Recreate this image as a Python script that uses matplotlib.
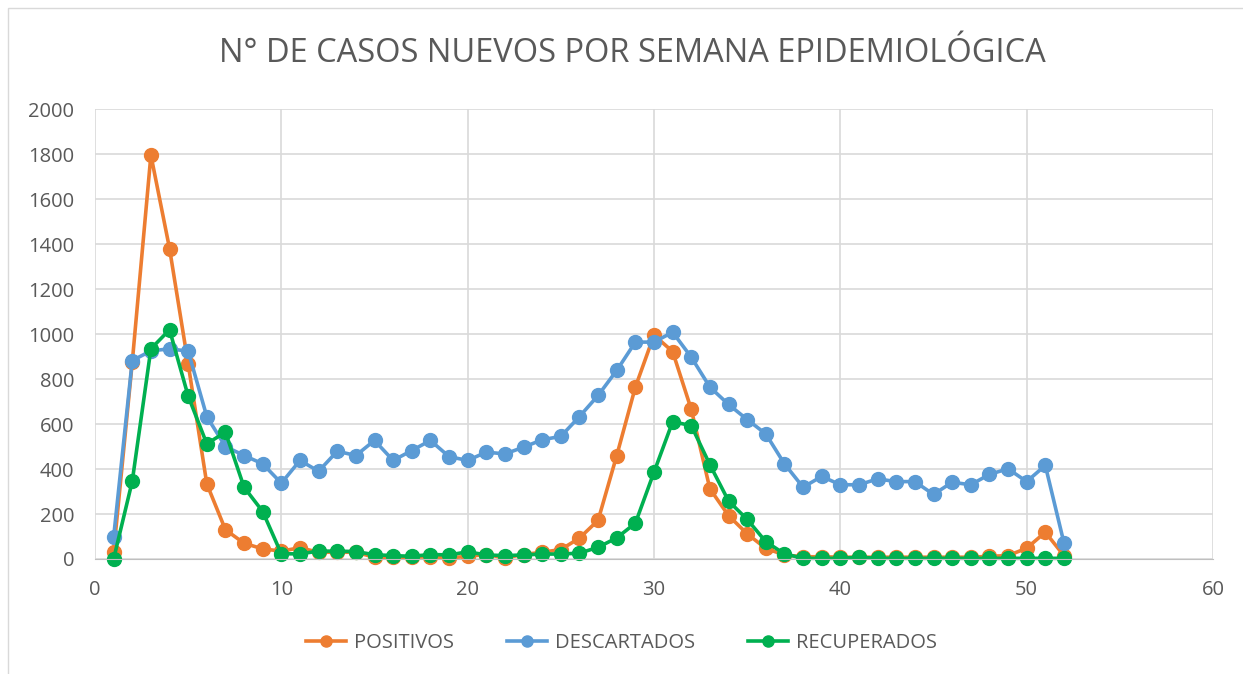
import matplotlib
matplotlib.use('Agg')
import matplotlib.pyplot as plt
from matplotlib.patches import Rectangle

# data
semanas = list(range(1, 53))
positivos = [30, 875, 1795, 1380, 867, 334, 130, 70, 45, 35,
             50, 30, 30, 30, 8, 8, 8, 10, 5, 12,
             20, 5, 20, 30, 42, 93, 172, 460, 764, 995,
             922, 665, 312, 193, 112, 47, 18, 10, 10, 8,
             8, 8, 8, 8, 8, 8, 8, 12, 15, 48,
             119, 15]
descartados = [97, 882, 925, 934, 924, 633, 500, 460, 423, 337,
               438, 390, 479, 460, 527, 438, 482, 527, 455, 438,
               475, 467, 497, 530, 545, 633, 727, 838, 964, 964,
               1008, 897, 764, 687, 620, 556, 423, 319, 367, 330,
               330, 356, 344, 344, 287, 341, 330, 376, 401, 344,
               416, 72]
recuperados = [0, 346, 934, 1019, 724, 512, 564, 319, 211, 23,
               23, 35, 35, 33, 19, 15, 12, 20, 18, 32,
               18, 15, 18, 22, 22, 26, 52, 94, 159, 386,
               610, 593, 419, 258, 176, 77, 23, 3, 3, 3,
               8, 3, 3, 3, 3, 3, 3, 3, 3, 3,
               3, 3]

series = [('POSITIVOS', positivos, '#ED7D31'),
          ('DESCARTADOS', descartados, '#5B9BD5'),
          ('RECUPERADOS', recuperados, '#00B050')]

plt.rcParams['font.family'] = ['Open Sans', 'DejaVu Sans']

fig = plt.figure(figsize=(12.43, 6.74), dpi=100)
ax = fig.add_axes([95 / 1243, 1 - 559 / 674, (1213 - 95) / 1243, (559 - 109) / 674])

# light chart-area border like the spreadsheet export
fig.patches.append(Rectangle((8 / 1243, -0.01), 1.02, 1 - 8 / 674 + 0.01,
                             transform=fig.transFigure, fill=False,
                             edgecolor='#d9d9d9', linewidth=1))

for name, vals, col in series:
    ax.plot(semanas, vals, color=col, linewidth=2.6, marker='o',
            markersize=10, label=name, clip_on=False)

ax.set_xlim(0, 60)
ax.set_ylim(0, 2000)
ax.set_xticks(range(0, 61, 10))
ax.set_yticks(range(0, 2001, 200))
ax.grid(color='#d9d9d9', linewidth=1.2)
ax.set_axisbelow(True)
for s in ['top', 'right', 'left']:
    ax.spines[s].set_visible(False)
ax.spines['bottom'].set_color('#bfbfbf')
ax.tick_params(length=0, labelsize=14.5, labelcolor='#595959')
ax.tick_params(axis='y', pad=15)
ax.tick_params(axis='x', pad=15)

fig.text(632 / 1243, 1 - 53 / 674, 'N° DE CASOS NUEVOS POR SEMANA EPIDEMIOLÓGICA',
         ha='center', va='center', fontsize=23.5, color='#595959')

fig.legend(loc='center', bbox_to_anchor=(0.5, 1 - 643 / 674), ncol=3,
           frameon=False, fontsize=14.5, labelcolor='#595959',
           handlelength=2.0, handletextpad=0.4, columnspacing=2.6, markerscale=0.8)

fig.savefig('out.png', dpi=100)
